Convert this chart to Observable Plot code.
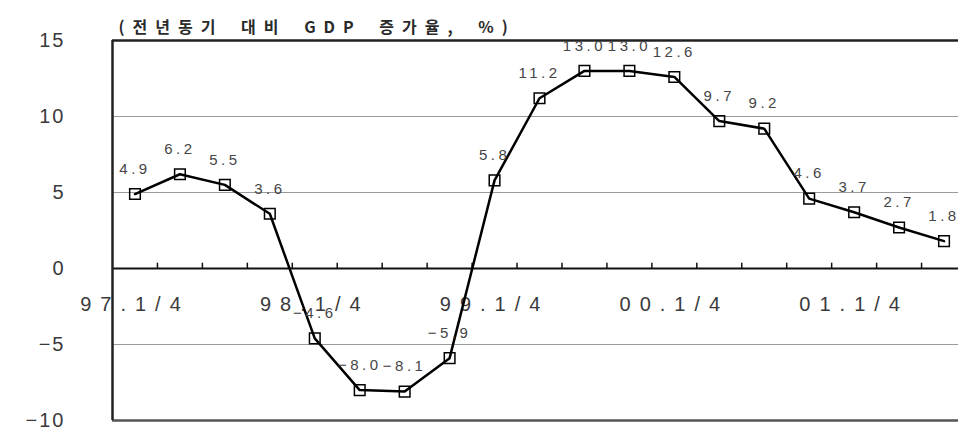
<!DOCTYPE html>
<html>
<head>
<meta charset="utf-8">
<script src="https://cdn.jsdelivr.net/npm/d3@7"></script>
<script src="https://cdn.jsdelivr.net/npm/@observablehq/plot@0.6"></script>
<style>
  html, body { margin: 0; padding: 0; background: #fff; overflow: hidden; }
  #chart svg { overflow: hidden; }
</style>
</head>
<body>
<div id="chart"></div>
<script>
const titleText = "(전년동기 대비 GDP 증가율, %)";
const quarters = ["97.1/4","97.2/4","97.3/4","97.4/4","98.1/4","98.2/4","98.3/4","98.4/4",
                  "99.1/4","99.2/4","99.3/4","99.4/4","00.1/4","00.2/4","00.3/4","00.4/4",
                  "01.1/4","01.2/4","01.3/4"];
const growth = [4.9, 6.2, 5.5, 3.6, -4.6, -8.0, -8.1, -5.9, 5.8, 11.2, 13.0, 13.0, 12.6, 9.7, 9.2, 4.6, 3.7, 2.7, 1.8];
const xTickLabels = ["97.1/4","98.1/4","99.1/4","00.1/4","01.1/4"];
const yTicks = [-10, -5, 0, 5, 10, 15];
const gridValues = [10, 5, -5];

const data = quarters.map((q, i) => ({q, i, v: growth[i]}));
const xLabels = xTickLabels.map(l => ({l, i: quarters.indexOf(l)}));
const boundaries = quarters.slice(1).map((q, i) => i + 0.5);
const fmt = d3.format(".1f");

// distinct text colours so that letter-spacing can be applied per mark afterwards
const C_YTICK = "#3a3a3b", C_XLAB = "#3a3a3c", C_VLAB = "#454546", C_TITLE = "#2a2a2b";

const chart = Plot.plot({
  width: 958,
  height: 432,
  marginLeft: 112,
  marginRight: 0,
  marginTop: 40,
  marginBottom: 12,
  style: {fontFamily: "'Liberation Sans', Arial, sans-serif", background: "#fff"},
  x: {type: "linear", domain: [-0.5, quarters.length - 0.5], range: [112, 966], axis: null},
  y: {domain: [-10, 15], axis: null},
  marks: [
    Plot.ruleY(gridValues, {stroke: "#9a9a9a", strokeWidth: 1}),
    Plot.ruleY([0], {stroke: "#111", strokeWidth: 2}),
    Plot.ruleY([15], {stroke: "#222", strokeWidth: 2.5}),
    Plot.ruleY([-10], {stroke: "#555", strokeWidth: 2.5}),
    Plot.ruleX([-0.5], {stroke: "#222", strokeWidth: 2.5}),
    Plot.ruleX(boundaries, {x: d => d, y1: 0, y2: 0.35, stroke: "#111", strokeWidth: 1.5}),
    Plot.text(yTicks, {
      y: d => d, frameAnchor: "left", dx: -47, textAnchor: "end",
      text: d => d3.format("")(d), fontSize: 20, fill: C_YTICK
    }),
    Plot.text(xLabels, {
      x: "i", y: 0, dy: 36, text: "l", fontSize: 20, fill: C_XLAB
    }),
    Plot.line(data, {x: "i", y: "v", stroke: "#000", strokeWidth: 2.5}),
    Plot.dot(data, {x: "i", y: "v", symbol: "square", r: 6, stroke: "#000", strokeWidth: 1.5, fill: "none"}),
    Plot.text(data, {
      x: "i", y: "v", dy: -25, dx: 0, text: d => fmt(d.v),
      fontSize: 15, fill: C_VLAB
    }),
    Plot.text([titleText], {
      frameAnchor: "top-left", dx: 6, dy: -19, textAnchor: "start",
      text: d => d, fontSize: 16, fontWeight: "bold", fill: C_TITLE,
      fontFamily: "'Noto Sans CJK KR', sans-serif"
    })
  ]
});
document.getElementById("chart").appendChild(chart);

const spacing = [[C_YTICK, 2, 0], [C_XLAB, 9, 0], [C_VLAB, 3.5, 0], [C_TITLE, 8, 6]];
for (const [c, s, w] of spacing) {
  d3.select(chart).selectAll("g").filter(function() {
    return (this.getAttribute("fill") || "").toLowerCase() === c;
  }).selectAll("text").style("letter-spacing", s + "px").style("word-spacing", w + "px");
}
</script>
</body>
</html>
